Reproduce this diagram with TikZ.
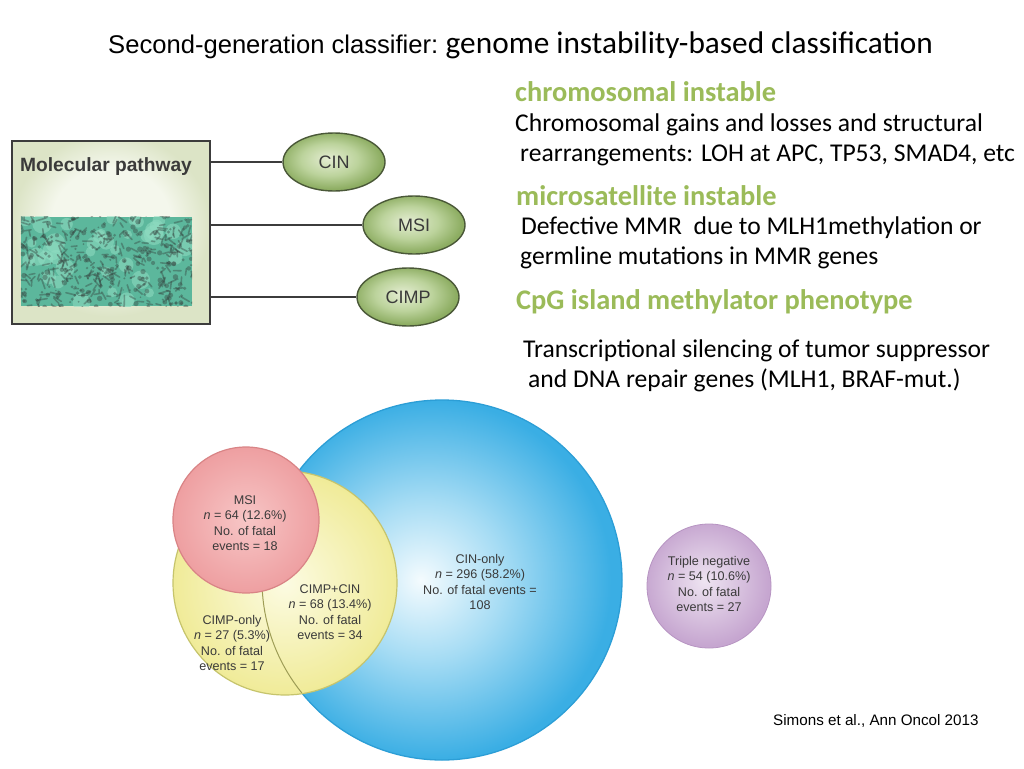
\documentclass[tikz,border=0pt]{standalone}
\usepackage{fontspec}
\setmainfont{Carlito}
\newfontfamily\arial{Liberation Sans}
\usetikzlibrary{shapes.geometric}
\definecolor{headgreen}{HTML}{9BBB59}
\definecolor{labelgray}{HTML}{3A3A3A}
\definecolor{linegray}{HTML}{3C3C3C}
\definecolor{boxin}{HTML}{F4F7EC}
\definecolor{boxout}{HTML}{DCE4C6}
\definecolor{ellin}{HTML}{E4EDD2}
\definecolor{ellmid}{HTML}{BCD39C}
\definecolor{ellout}{HTML}{8DAD62}
\definecolor{ellborder}{HTML}{4A5838}
\definecolor{bluec}{HTML}{F4FBFE}
\definecolor{bluem}{HTML}{A6DCF4}
\definecolor{blueo}{HTML}{3AAEE4}
\definecolor{blueline}{HTML}{2C9ED6}
\definecolor{yelc}{HTML}{FCFBE2}
\definecolor{yelo}{HTML}{F0EB98}
\definecolor{yelline}{HTML}{C6C46C}
\definecolor{pinkc}{HTML}{F7C6C6}
\definecolor{pinko}{HTML}{EE9FA1}
\definecolor{pinkline}{HTML}{D98486}
\definecolor{purc}{HTML}{EEE4F1}
\definecolor{puro}{HTML}{C6A6D0}
\definecolor{purline}{HTML}{B794C2}
\definecolor{teal}{HTML}{5CB79C}
\definecolor{teallight}{HTML}{8FDCC2}
\definecolor{tissue}{HTML}{34403C}
\pgfdeclareradialshading{boxshade}{\pgfpoint{0bp}{4bp}}{color(0bp)=(boxin); color(15bp)=(boxin); color(25bp)=(boxout); color(50bp)=(boxout)}
\pgfdeclareradialshading{ellshade}{\pgfpoint{-3bp}{3bp}}{color(0bp)=(ellin); color(14bp)=(ellmid); color(25bp)=(ellout); color(50bp)=(ellout)}
\pgfdeclareradialshading{blueshade}{\pgfpoint{-3bp}{0bp}}{color(0bp)=(bluec); color(11bp)=(bluem); color(25bp)=(blueo); color(50bp)=(blueo)}
\pgfdeclareradialshading{yelshade}{\pgfpoint{0bp}{0bp}}{color(0bp)=(yelc); color(25bp)=(yelo); color(50bp)=(yelo)}
\pgfdeclareradialshading{pinkshade}{\pgfpoint{0bp}{0bp}}{color(0bp)=(pinkc); color(25bp)=(pinko); color(50bp)=(pinko)}
\pgfdeclareradialshading{purshade}{\pgfpoint{-2bp}{2bp}}{color(0bp)=(purc); color(25bp)=(puro); color(50bp)=(puro)}
\begin{document}
\begin{tikzpicture}[x=1pt,y=-1pt,
  bodytext/.style={anchor=base west, inner sep=0pt, font=\fontsize{25.6}{31}\selectfont},
  headtext/.style={anchor=base west, inner sep=0pt, text=headgreen, font=\bfseries\fontsize{28.4}{34}\selectfont},
  venntext/.style={align=center, inner sep=0pt, text=labelgray, font=\arial\fontsize{12.6}{15.5}\selectfont},
  pathell/.style={ellipse, draw=ellborder, line width=1.4pt, shading=ellshade, inner sep=0pt,
    minimum width=102pt, minimum height=58pt, text=labelgray, font=\arial\fontsize{18}{20}\selectfont},
  connector/.style={draw=linegray, line width=2pt}
]
\path[use as bounding box, fill=white] (0,0) rectangle (1024,768);

% ---------- title ----------
\node[anchor=base west, inner sep=0pt, font=\arial\fontsize{25.6}{30}\selectfont] (t1) at (108,53) {Second-generation classifier:};
\node[anchor=base west, inner sep=0pt, font=\fontsize{31.3}{36}\selectfont] (t2) at ([xshift=7pt]t1.base east) {genome instability-based classification};

% ---------- molecular pathway panel ----------
\node[draw=linegray, line width=1.5pt, shading=boxshade, minimum width=198pt, minimum height=183pt, inner sep=0pt] (box) at (111,232.5) {};
\node[inner sep=0pt, text=labelgray, font=\arial\bfseries\fontsize{19.2}{21}\selectfont] (mp) at (106,167) {Molecular pathway};
\node[fill=teal, minimum width=171pt, minimum height=89pt, inner sep=0pt] (img) at (106.5,261.5) {};
\begin{scope}
  \clip (img.south west) rectangle (img.north east);
  \pgfmathsetseed{42}
  \foreach \i in {1,...,40}{
    \pgfmathsetmacro\rx{106.5+88*rand}
    \pgfmathsetmacro\ry{261.5+46*rand}
    \pgfmathsetmacro\rr{4+6*rnd}
    \fill[teallight, opacity=0.55] (\rx,\ry) circle[radius=\rr];
  }
  \foreach \i in {1,...,260}{
    \pgfmathsetmacro\rx{106.5+88*rand}
    \pgfmathsetmacro\ry{261.5+46*rand}
    \pgfmathsetmacro\ra{360*rnd}
    \pgfmathsetmacro\rl{3+7*rnd}
    \draw[tissue, opacity=0.4, line width=1.6pt, line cap=round] (\rx,\ry) -- ++(\ra:\rl);
  }
  \foreach \i in {1,...,260}{
    \pgfmathsetmacro\rx{106.5+88*rand}
    \pgfmathsetmacro\ry{261.5+46*rand}
    \pgfmathsetmacro\rr{0.8+2*rnd}
    \fill[tissue, opacity=0.4] (\rx,\ry) circle[radius=\rr];
  }
\end{scope}

\node[pathell] (cin) at (334,162) {CIN};
\node[pathell] (msi) at (414,225) {MSI};
\node[pathell] (cimp) at (408,297) {CIMP};
\draw[connector] (box.east |- cin.center) -- (cin.west);
\draw[connector] (box.east |- msi.center) -- (msi.west);
\draw[connector] (box.east |- cimp.center) -- (cimp.west);

% ---------- right text ----------
\node[headtext] (h1) at (515,101) {chromosomal instable};
\node[bodytext] (b1) at (515,131) {Chromosomal gains and losses and structural};
\node[bodytext] (b2) at (520,161) {rearrangements: LOH at APC, TP53, SMAD4, etc};
\node[headtext] (h2) at (516,205) {microsatellite instable};
\node[bodytext] (b3) at (521,234) {Defective MMR\ \ due to MLH1methylation or};
\node[bodytext] (b4) at (520,264) {germline mutations in MMR genes};
\node[headtext] (h3) at (516,309) {CpG island methylator phenotype};
\node[bodytext] (b5) at (523,357) {Transcriptional silencing of tumor suppressor};
\node[bodytext] (b6) at (528,387) {and DNA repair genes (MLH1, BRAF-mut.)};

% ---------- Venn diagram ----------
\draw[shading=blueshade, draw=blueline, line width=1.3pt] (442,580) circle[radius=180];
\draw[shading=yelshade, draw=yelline, line width=1.2pt] (285,583) circle[radius=112];
\begin{scope}
  \clip (285,583) circle[radius=111];
  \draw[yelline!80!black, line width=1pt] (442,580) circle[radius=180];
\end{scope}
\draw[shading=pinkshade, draw=pinkline, line width=1.2pt] (246,520) circle[radius=73];
\draw[shading=purshade, draw=purline, line width=0.8pt] (709,586) circle[radius=62];

\node[venntext] (lmsi) at (245,523) {MSI\\\textit{n} = 64 (12.6\%)\\No. of fatal\\events = 18};
\node[venntext] (lcc) at (330,612) {CIMP+CIN\\\textit{n} = 68 (13.4\%)\\No. of fatal\\events = 34};
\node[venntext] (lco) at (232,643) {CIMP-only\\\textit{n} = 27 (5.3\%)\\No. of fatal\\events = 17};
\node[venntext] (lcin) at (480,582) {CIN-only\\\textit{n} = 296 (58.2\%)\\No. of fatal events =\\108};
\node[venntext] (ltn) at (709,584) {Triple negative\\\textit{n} = 54 (10.6\%)\\No. of fatal\\events = 27};

% ---------- citation ----------
\node[anchor=base west, inner sep=0pt, font=\arial\fontsize{15.2}{18}\selectfont] (cite) at (773,725) {Simons et al., Ann Oncol 2013};
\end{tikzpicture}
\end{document}
